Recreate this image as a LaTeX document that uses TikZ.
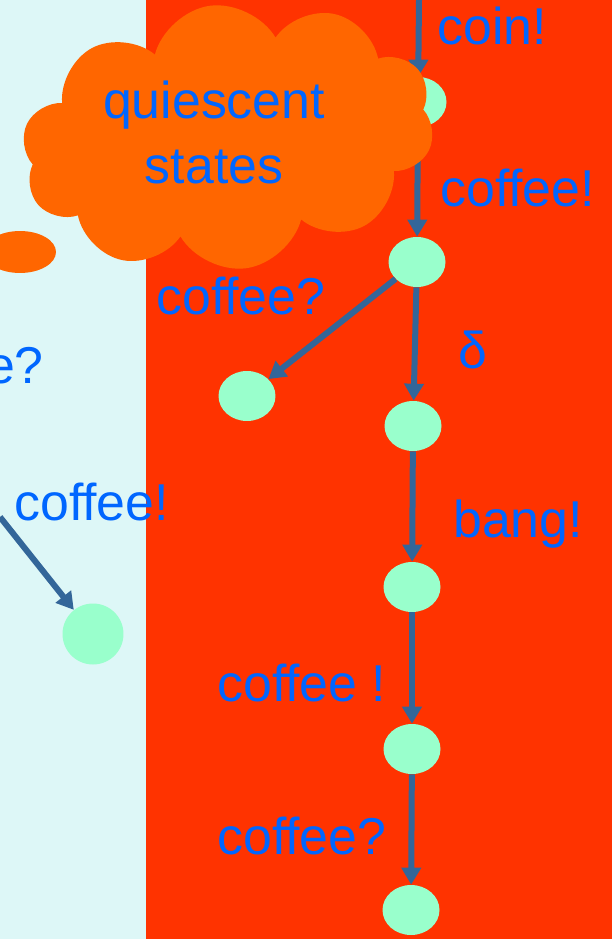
\documentclass[tikz,border=0pt]{standalone}
\usepackage{fontspec}
\setmainfont{Liberation Sans}
\usetikzlibrary{arrows.meta,shapes.geometric,shapes.symbols}
\definecolor{bgaqua}{HTML}{DDF7F7}
\definecolor{bgred}{HTML}{FF3300}
\definecolor{mint}{HTML}{99FFCC}
\definecolor{puff}{HTML}{FF6600}
\definecolor{lblue}{HTML}{0066FF}
\definecolor{edgeblue}{HTML}{336699}
\tikzset{
	state/.style={ellipse,fill=mint,minimum width=1.14cm,minimum height=1cm,inner sep=0pt},
	trans/.style={draw=edgeblue,line width=0.12cm,-{Triangle[length=0.34cm,width=0.38cm]}},
	lbl/.style={text=lblue,font=\fontsize{29.5}{36}\selectfont,inner sep=0pt},
}
\begin{document}
\begin{tikzpicture}[x=0.02cm,y=-0.02cm]
	\useasboundingbox (0,0) rectangle (612,939);
	\fill[bgaqua] (0,0) rectangle (146,939);
	\fill[bgred] (146,0) rectangle (612,939);
	% states
	\node[state] (n0) at (418,102) {};
	\node[state] (n1) at (417,262) {};
	\node[state] (n2) at (413,426) {};
	\node[state] (n3) at (412,587) {};
	\node[state] (n4) at (412,749) {};
	\node[state] (n5) at (411,910) {};
	\node[state] (s1) at (247,396) {};
	\node[state,circle,minimum size=1.22cm] (s2) at (93,634) {};
	\coordinate (in0) at (419,0);
	\coordinate (in1) at (0,517);
	% transitions
	\draw[trans] (in0) -- (n0);
	\draw[trans] (n0) -- (n1);
	\draw[trans] (n1) -- (s1);
	\draw[trans] (n1) -- (n2);
	\draw[trans] (n2) -- (n3);
	\draw[trans] (n3) -- (n4);
	\draw[trans] (n4) -- (n5);
	\draw[trans] (in1) -- (s2);
	% labels
	\node[lbl,anchor=base west] (coin) at (437,45) {coin!};
	\node[lbl,anchor=base west] (give) at (440,207) {coffee!};
	\node[lbl,anchor=base west] (ask) at (156,314) {coffee?};
	\node[lbl,anchor=base west] (delta) at (458,368) {δ};
	\node[lbl,anchor=base east] (askl) at (44,383) {coffee?};
	\node[lbl,anchor=base west] (givel) at (14,520) {coffee!};
	\node[lbl,anchor=base west] (bang) at (453,537) {bang!};
	\node[lbl,anchor=base west] (give2) at (217,701) {coffee !};
	\node[lbl,anchor=base west] (ask2) at (217,854) {coffee?};
	% thought bubble
	\node[cloud,cloud puffs=10,cloud puff arc=135,cloud ignores aspect,fill=puff,
		minimum width=8.3cm,minimum height=5.3cm,inner sep=0pt,rotate=8] (bubble) at (228,137) {};
	\node[ellipse,fill=puff,minimum width=1.44cm,minimum height=0.84cm,inner sep=0pt] (drop) at (20,252) {};
	\node[lbl,anchor=base] (q1) at (214,119) {quiescent};
	\node[lbl,anchor=base] (q2) at (214,184) {states};
\end{tikzpicture}
\end{document}
